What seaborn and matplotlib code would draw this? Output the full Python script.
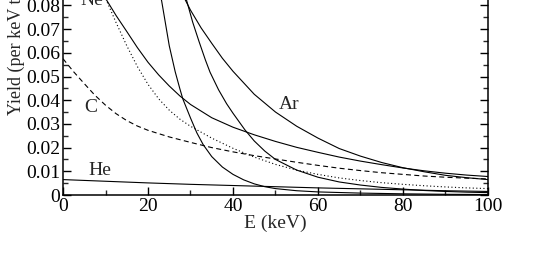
import numpy as np
import pandas as pd
import matplotlib
matplotlib.use("Agg")
import matplotlib.pyplot as plt
import seaborn as sns

# ---- data ----
he_x = [0, 10, 20, 30, 40, 50, 60, 70, 80, 90, 100]
he_y = [0.0065, 0.0058, 0.0051, 0.0045, 0.0040, 0.0035, 0.0030, 0.0026, 0.0022, 0.0018, 0.0015]

c_x = [0, 2.5, 5, 7.5, 10, 12.5, 15, 17.5, 20, 25, 30, 35, 40, 45, 50, 55, 60, 65, 70, 75, 80,
       85, 90, 95, 100]
c_y = [0.0575, 0.0520, 0.0470, 0.0421, 0.0379, 0.0343, 0.0314, 0.0291, 0.0273, 0.0245, 0.0222,
       0.0200, 0.0182, 0.0166, 0.0152, 0.0138, 0.0125, 0.0113, 0.0103, 0.0094, 0.0087, 0.0080,
       0.0075, 0.0071, 0.0068]

ne_x = [10, 12.5, 15, 17.5, 20, 22.5, 25, 27.5, 30, 35, 40, 45, 50, 55, 60, 65, 70, 75, 80, 85,
        90, 95, 100]
ne_y = [0.0830, 0.0727, 0.0630, 0.0542, 0.0467, 0.0406, 0.0358, 0.0320, 0.0290, 0.0240, 0.0197,
        0.0160, 0.0129, 0.0105, 0.0087, 0.0072, 0.0061, 0.0052, 0.0045, 0.0039, 0.0034, 0.0030,
        0.0027]

a_x = [8, 10, 12.5, 15, 17.5, 20, 22.5, 25, 27.5, 30, 35, 40, 45, 50, 55, 60, 65, 70, 75, 80, 85,
       90, 95, 100]
a_y = [0.0890, 0.0830, 0.0757, 0.0690, 0.0622, 0.0560, 0.0507, 0.0460, 0.0418, 0.0382, 0.0326,
       0.0286, 0.0254, 0.0226, 0.0201, 0.0180, 0.0160, 0.0143, 0.0128, 0.0114, 0.0102, 0.0092,
       0.0084, 0.0078]

b_x = [22, 23.2, 25, 26.4, 27.5, 28.2, 30, 31.5, 33, 35, 37.5, 40, 42.5, 45, 47.5, 50, 55, 60, 70,
       80, 90, 100]
b_y = [0.0900, 0.0820, 0.0630, 0.0520, 0.0448, 0.0405, 0.0325, 0.0262, 0.0212, 0.0162, 0.0118,
       0.0087, 0.0064, 0.0047, 0.0035, 0.0027, 0.0018, 0.0013, 0.0008, 0.0005, 0.0003, 0.0002]

d_x = [28.3, 29.1, 30.5, 32, 33.5, 34.6, 36.6, 38.5, 40, 42.8, 45, 47.5, 50, 55, 60, 65, 70, 75,
       80, 85, 90, 95, 100]
d_y = [0.0900, 0.0820, 0.0730, 0.0648, 0.0570, 0.0518, 0.0444, 0.0385, 0.0345, 0.0275, 0.0228,
       0.0185, 0.0150, 0.0105, 0.0075, 0.0055, 0.0042, 0.0032, 0.0025, 0.0019, 0.0015, 0.0012,
       0.0010]

ar_x = [28, 30, 32.5, 35, 37.5, 40, 45, 50, 55, 60, 65, 70, 75, 80, 85, 90, 95, 100]
ar_y = [0.0850, 0.0780, 0.0705, 0.0640, 0.0577, 0.0522, 0.0425, 0.0350, 0.0290, 0.0240, 0.0196,
        0.0164, 0.0137, 0.0115, 0.0098, 0.0083, 0.0073, 0.0065]

x_ticks = [0, 20, 40, 60, 80, 100]
y_ticks = [0, 0.01, 0.02, 0.03, 0.04, 0.05, 0.06, 0.07, 0.08, 0.09, 0.1]
y_tick_labels = ["0", "0.01", "0.02", "0.03", "0.04", "0.05", "0.06", "0.07", "0.08", "0.09", "0.1"]

# ---- plotting ----
sns.set_style("ticks")
plt.rcParams["font.family"] = ["Liberation Serif", "DejaVu Serif"]

fig = plt.figure(figsize=(5.5, 2.59), dpi=100)
ax = fig.add_axes([63 / 550, 64 / 259, 425 / 550, 237 / 259])

curves = [
    (he_x, he_y, "-"),
    (c_x, c_y, (0, (4.5, 3))),
    (ne_x, ne_y, (0, (1, 2.2))),
    (a_x, a_y, "-"),
    (b_x, b_y, "-"),
    (d_x, d_y, "-"),
    (ar_x, ar_y, "-"),
]
for xs, ys, ls in curves:
    df = pd.DataFrame({"E": xs, "Y": ys})
    sns.lineplot(data=df, x="E", y="Y", ax=ax, color="black", lw=0.8,
                 linestyle=ls, estimator=None, sort=True)

ax.set_xlim(0, 100)
ax.set_ylim(0, 0.1)
ax.set_xticks(x_ticks)
ax.set_xticklabels([str(v) for v in x_ticks])
ax.set_yticks(y_ticks)
ax.set_yticklabels(y_tick_labels)
ax.set_xticks(np.arange(0, 101, 10), minor=True)
ax.set_yticks(np.arange(0, 0.1001, 0.005), minor=True)

ax.tick_params(axis="both", which="major", direction="in", length=5.8, width=1.0,
               labelsize=14, right=True, top=True, pad=2, colors="black")
ax.tick_params(axis="both", which="minor", direction="in", length=3.6, width=1.0,
               right=True, top=True)
for s in ax.spines.values():
    s.set_linewidth(1.1)
    s.set_color("black")

ax.set_xlabel("E (keV)", fontsize=14, labelpad=0)
ax.set_ylabel("Yield (per keV transferred)", fontsize=13)
ax.yaxis.label.set_horizontalalignment("left")
ax.yaxis.set_label_coords((25 - 63) / 425, (195 - 115) / 237)

ax.text(6.8, 0.0822, "Ne", fontsize=14, ha="center", va="center")
ax.text(6.5, 0.0370, "C", fontsize=14, ha="center", va="center")
ax.text(8.7, 0.0102, "He", fontsize=14, ha="center", va="center")
ax.text(53.2, 0.0380, "Ar", fontsize=14, ha="center", va="center")

fig.savefig("out.png", dpi=100)
